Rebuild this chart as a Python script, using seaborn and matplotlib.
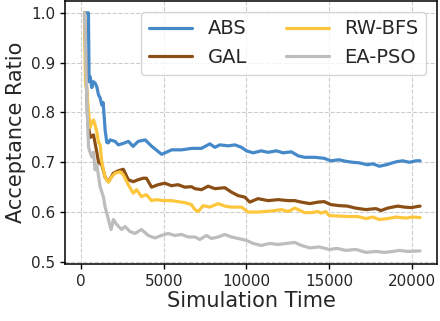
import numpy as np
import pandas as pd
import seaborn as sns
import matplotlib
matplotlib.use("Agg")
import matplotlib.pyplot as plt

# -----------------------------
# Data
# -----------------------------
methods = ["ABS", "GAL", "RW-BFS", "EA-PSO"]
colors = ["#4689c9", "#8b4f16", "#fdc63c", "#bdbdbd"]

t_abs = [200, 440, 480, 545, 645, 745, 845, 945, 1045, 1150, 1250, 1330, 1450, 1550,
         1650, 1750, 2050, 2250, 2550, 2860, 3140, 3450, 3870, 4270, 4870, 5480, 6080,
         6690, 7280, 7785, 8090, 8390, 8890, 9300, 9700, 10000, 10400, 10900, 11310,
         11810, 12215, 12720, 13120, 13520, 14130, 14700, 15100, 15600, 16000, 16420,
         16800, 17330, 17630, 18040, 18450, 19050, 19450, 19850, 20250, 20500]
v_abs = [1.0, 1.0, 0.862, 0.872, 0.85, 0.862, 0.859, 0.852, 0.836, 0.829, 0.815, 0.82,
         0.765, 0.74, 0.739, 0.745, 0.742, 0.735, 0.738, 0.742, 0.732, 0.742, 0.745,
         0.732, 0.716, 0.725, 0.725, 0.728, 0.728, 0.737, 0.730, 0.735, 0.733, 0.735,
         0.730, 0.723, 0.719, 0.723, 0.72, 0.723, 0.719, 0.721, 0.713, 0.71, 0.71, 0.708,
         0.703, 0.705, 0.702, 0.70, 0.699, 0.695, 0.697, 0.692, 0.695, 0.701, 0.703,
         0.70, 0.703, 0.703]

t_gal = [200, 300, 400, 550, 745, 950, 1050, 1250, 1450, 1650, 1950, 2250, 2550, 2850,
         3150, 3450, 3750, 3950, 4260, 4660, 5060, 5460, 5860, 6270, 6670, 6880, 7280,
         7680, 8090, 8690, 9090, 9500, 9900, 10200, 10700, 11310, 11910, 12520, 12920,
         13320, 13830, 14330, 14700, 15100, 15600, 16100, 16600, 17230, 17830, 18140,
         18540, 19150, 19550, 19960, 20500]
v_gal = [1.0, 0.88, 0.78, 0.75, 0.755, 0.72, 0.70, 0.695, 0.67, 0.661, 0.678, 0.683,
         0.686, 0.665, 0.661, 0.665, 0.668, 0.668, 0.65, 0.655, 0.658, 0.653, 0.655,
         0.65, 0.651, 0.647, 0.645, 0.652, 0.647, 0.649, 0.64, 0.633, 0.63, 0.62, 0.627,
         0.623, 0.625, 0.623, 0.623, 0.62, 0.617, 0.62, 0.621, 0.615, 0.613, 0.612,
         0.608, 0.605, 0.607, 0.603, 0.608, 0.612, 0.61, 0.609, 0.612]

t_rw = [200, 260, 350, 450, 545, 645, 745, 845, 950, 1050, 1150, 1250, 1450, 1650, 1850,
        2050, 2350, 2550, 2850, 3150, 3350, 3650, 3950, 4260, 4560, 4960, 5460, 5860,
        6270, 6670, 6880, 7080, 7380, 7785, 8290, 8690, 9090, 9700, 10100, 10600, 11110,
        11710, 12110, 12520, 12920, 13520, 13930, 14330, 14500, 14800, 15000, 15600,
        16200, 16720, 17230, 17630, 18040, 18550, 19050, 19650, 20060, 20500]
v_rw = [1.0, 0.86, 0.84, 0.80, 0.77, 0.78, 0.785, 0.775, 0.76, 0.74, 0.735, 0.70, 0.67,
        0.66, 0.671, 0.678, 0.681, 0.675, 0.655, 0.638, 0.645, 0.631, 0.635, 0.623,
        0.625, 0.623, 0.623, 0.621, 0.619, 0.615, 0.605, 0.601, 0.613, 0.61, 0.617,
        0.612, 0.61, 0.61, 0.60, 0.60, 0.601, 0.603, 0.605, 0.601, 0.608, 0.599, 0.599,
        0.601, 0.598, 0.601, 0.593, 0.592, 0.591, 0.591, 0.587, 0.59, 0.585, 0.587,
        0.59, 0.588, 0.59, 0.589]

t_ea = [200, 250, 300, 350, 400, 450, 540, 640, 745, 840, 950, 1145, 1350, 1445, 1650,
        1810, 1950, 2150, 2450, 2650, 2950, 3250, 3650, 4060, 4460, 4860, 5260, 5660,
        6065, 6470, 6880, 7180, 7580, 7880, 8290, 8690, 9090, 9500, 10000, 10400, 10900,
        11410, 11910, 12420, 12920, 13320, 13830, 14400, 15000, 15500, 16010, 16620,
        17230, 17830, 18340, 18850, 19250, 19760, 20500]
v_ea = [1.0, 0.95, 0.88, 0.82, 0.77, 0.73, 0.72, 0.711, 0.72, 0.685, 0.695, 0.651, 0.63,
        0.611, 0.585, 0.565, 0.585, 0.575, 0.565, 0.571, 0.561, 0.557, 0.565, 0.553,
        0.548, 0.553, 0.557, 0.553, 0.555, 0.55, 0.55, 0.545, 0.553, 0.547, 0.55, 0.555,
        0.55, 0.547, 0.543, 0.537, 0.533, 0.537, 0.535, 0.537, 0.539, 0.533, 0.528, 0.53,
        0.525, 0.527, 0.523, 0.525, 0.519, 0.521, 0.519, 0.521, 0.523, 0.521, 0.522]

# -----------------------------
# Long-form table
# -----------------------------
frames = []
for name, t, v in zip(methods, [t_abs, t_gal, t_rw, t_ea], [v_abs, v_gal, v_rw, v_ea]):
    frames.append(pd.DataFrame({"Simulation Time": t, "Acceptance Ratio": v, "Method": name}))
df = pd.concat(frames, ignore_index=True)

# -----------------------------
# Plot
# -----------------------------
sns.set_style("whitegrid", {
    "grid.linestyle": "--",
    "grid.color": "#cccccc",
    "axes.edgecolor": "black",
    "xtick.bottom": True,
    "ytick.left": True,
})
plt.rcParams["font.family"] = ["DejaVu Sans"]

fig, ax = plt.subplots(figsize=(4.4, 3.21), dpi=100)
sns.lineplot(data=df, x="Simulation Time", y="Acceptance Ratio", hue="Method",
             hue_order=methods, palette=dict(zip(methods, colors)),
             estimator=None, linewidth=2.3, ax=ax)

ax.set_xlim(-970, 21520)
ax.set_ylim(0.496, 1.024)
ax.set_xticks([0, 5000, 10000, 15000, 20000])
ax.set_yticks([0.5, 0.6, 0.7, 0.8, 0.9, 1.0])
ax.tick_params(labelsize=11, length=3.5, width=1, color="black")
ax.set_xlabel("Simulation Time", fontsize=15, labelpad=2)
ax.set_ylabel("Acceptance Ratio", fontsize=15, labelpad=4)
for s in ax.spines.values():
    s.set_linewidth(1.1)

ax.legend(ncol=2, loc="upper right", fontsize=14, title=None,
          borderaxespad=0.55, handlelength=2.2, columnspacing=2.0)

fig.subplots_adjust(left=0.148, right=0.993, top=0.997, bottom=0.178)
fig.savefig("out.png", dpi=100)
plt.close()
